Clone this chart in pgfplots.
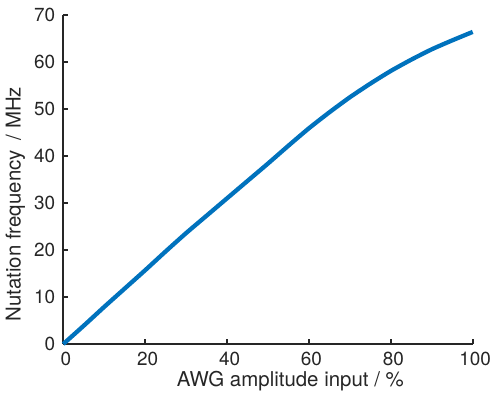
\documentclass[border=0pt]{standalone}
\usepackage{fontspec}
\setmainfont{TeX Gyre Heros}
\usepackage{pgfplots}
\pgfplotsset{compat=1.18}
\definecolor{mblue}{RGB}{0,114,189}
\definecolor{axgray}{RGB}{38,38,38}
\begin{document}
\begin{tikzpicture}
\begin{axis}[
  scale only axis,
  width=409.4bp, height=329bp,
  xmin=0, xmax=100, ymin=0, ymax=70,
  axis x line*=bottom, axis y line*=left,
  axis line style={axgray, line width=2bp},
  every tick/.style={axgray, line width=1.8bp},
  tick align=inside, major tick length=5bp,
  xtick={0,20,...,100}, ytick={0,10,...,70},
  tick label style={font=\fontsize{19}{19}\selectfont, text=axgray, inner sep=0pt},
  xticklabel style={anchor=north, yshift=-8bp, xshift=2.5bp},
  yticklabel style={anchor=east, xshift=-8bp},
  /pgf/number format/assume math mode=true,
  xlabel={AWG amplitude input / \%},
  label style={font=\fontsize{20.5}{20.5}\selectfont, text=axgray, inner sep=0pt},
  xlabel style={at={(axis description cs:0,0)}, anchor=base west, xshift=113.4bp, yshift=-42bp},
  clip=false,
]
\addplot[mblue, line width=4.3bp, line join=round, smooth, tension=0.4] coordinates {
(0,0) (5,3.9) (10,7.9) (15,11.8) (20,15.7) (25,19.7) (30,23.6) (35,27.3)
(40,31.0) (45,34.7) (50,38.4) (55,42.2) (60,45.9) (65,49.3) (70,52.5)
(75,55.4) (80,58.1) (85,60.5) (90,62.7) (95,64.6) (100,66.4)
};
\coordinate (ll) at (rel axis cs:0,0);
\coordinate (ur) at (rel axis cs:1,1);
\end{axis}
% y label placed by hand, as in the reference it sits off-centre
\node[rotate=90, anchor=base west, inner sep=0pt, text=axgray,
  font=\fontsize{20.5}{20.5}\selectfont]
  at ([xshift=-42.6bp,yshift=22.3bp]ll) {Nutation frequency\hspace{10bp}/ MHz};
\pgfresetboundingbox
\path[use as bounding box] ([xshift=-63.3bp,yshift=-53bp]ll) rectangle ([xshift=27.3bp,yshift=15bp]ur);
\end{tikzpicture}
\end{document}
